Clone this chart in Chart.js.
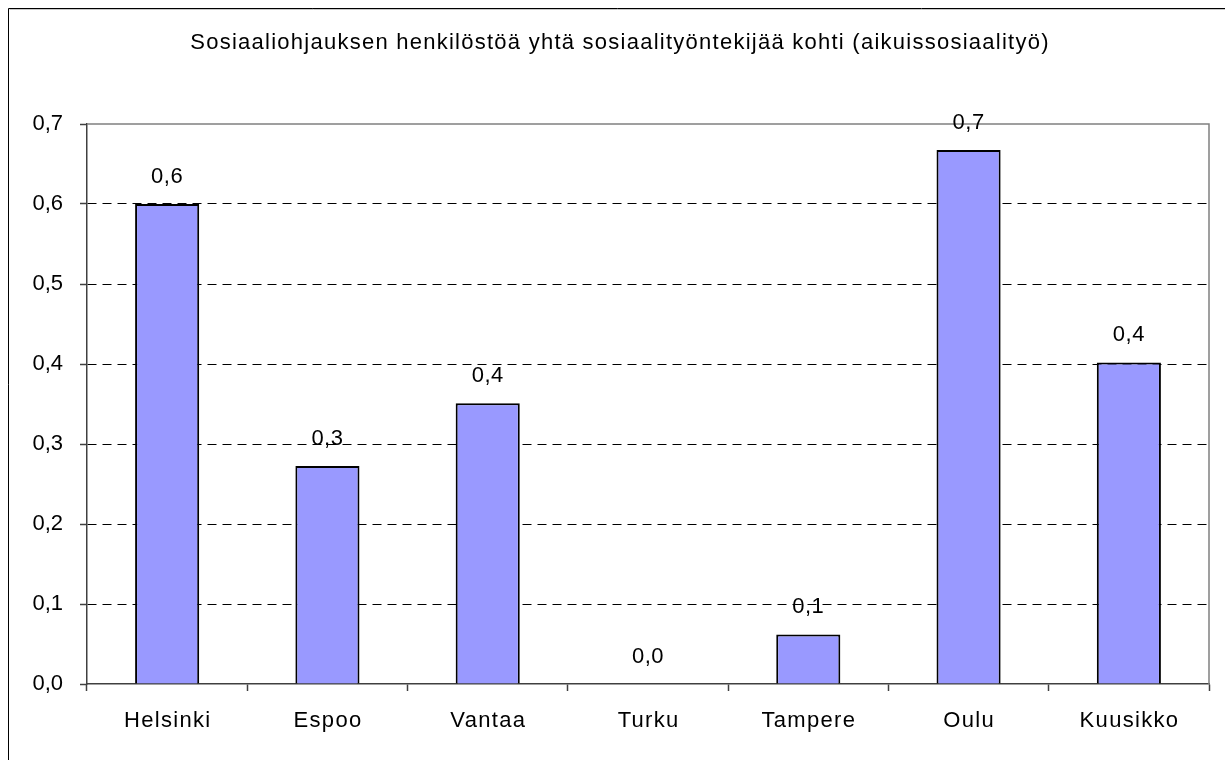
<!DOCTYPE html>
<html>
<head>
<meta charset="utf-8">
<script src="https://cdn.jsdelivr.net/npm/chart.js@4"></script>
<style>
  html, body { margin: 0; padding: 0; background: #fff; }
  #wrap { width: 1225px; height: 760px; position: relative; }
</style>
</head>
<body>
<div id="wrap"><canvas id="c" width="1225" height="760"></canvas></div>
<script>
const titleText = 'Sosiaaliohjauksen henkilöstöä yhtä sosiaalityöntekijää kohti (aikuissosiaalityö)';
const categories = ['Helsinki', 'Espoo', 'Vantaa', 'Turku', 'Tampere', 'Oulu', 'Kuusikko'];
const values = [0.600, 0.2725, 0.351, 0.0, 0.062, 0.6675, 0.402];
const yMin = 0;
const yMax = 0.7;
const yStep = 0.1;

const FONT = '"Liberation Sans", Arial, sans-serif';
const fmt = v => v.toFixed(1).replace('.', ',');

const framePlugin = {
  id: 'frame',
  beforeDraw(chart) {
    const ctx = chart.ctx;
    ctx.save();
    ctx.fillStyle = '#fff';
    ctx.fillRect(0, 0, chart.width, chart.height);
    ctx.strokeStyle = '#000';
    ctx.lineWidth = 1;
    ctx.beginPath();
    ctx.moveTo(8.5, chart.height + 5);
    ctx.lineTo(8.5, 8.5);
    ctx.lineTo(chart.width + 5, 8.5);
    ctx.stroke();
    ctx.strokeStyle = '#c8c8c8';
    ctx.beginPath();
    ctx.moveTo(9.5, 9.5);
    ctx.lineTo(chart.width + 5, 9.5);
    ctx.stroke();
    // title
    ctx.fillStyle = '#000';
    ctx.font = '22px ' + FONT;
    ctx.letterSpacing = '1.25px';
    ctx.textAlign = 'center';
    ctx.textBaseline = 'middle';
    ctx.fillText(titleText, 620, 43);
    ctx.restore();
  },
  beforeDatasetsDraw(chart) {
    const a = chart.chartArea;
    const ctx = chart.ctx;
    ctx.save();
    ctx.strokeStyle = '#808080';
    ctx.lineWidth = 1.5;
    ctx.beginPath();
    ctx.moveTo(a.left, a.top);
    ctx.lineTo(a.right, a.top);
    ctx.lineTo(a.right, a.bottom);
    ctx.stroke();
    ctx.restore();
  },
  afterDatasetsDraw(chart) {
    const ctx = chart.ctx;
    const meta = chart.getDatasetMeta(0);
    ctx.save();
    ctx.fillStyle = '#000';
    ctx.font = '22px ' + FONT;
    ctx.letterSpacing = '0.5px';
    ctx.textAlign = 'center';
    ctx.textBaseline = 'middle';
    meta.data.forEach((bar, i) => {
      ctx.fillText(fmt(values[i]), bar.x, bar.y - 27);
    });
    // category labels
    const xs = chart.scales.x;
    ctx.letterSpacing = '1.3px';
    categories.forEach((lab, i) => {
      ctx.fillText(lab, xs.getPixelForTick(i) + 0.6, 721);
    });
    ctx.restore();
  }
};

new Chart(document.getElementById('c'), {
  type: 'bar',
  data: {
    labels: categories,
    datasets: [{
      data: values,
      backgroundColor: '#9999FF',
      borderColor: '#000',
      borderWidth: 2,
      categoryPercentage: 1.0,
      barPercentage: 0.4
    }]
  },
  options: {
    responsive: false,
    animation: false,
    layout: { padding: { top: 124, right: 16, left: 0, bottom: 0 } },
    plugins: {
      legend: { display: false },
      title: { display: false },
      tooltip: { enabled: false }
    },
    scales: {
      x: {
        grid: {
          offset: true,
          drawOnChartArea: false,
          drawTicks: true,
          tickLength: 7,
          tickColor: '#404040',
          tickWidth: 1.5
        },
        border: { color: '#404040', width: 1.5 },
        ticks: {
          display: false,
          autoSkip: false
        },
        afterFit(scale) { scale.height = 76; }
      },
      y: {
        min: yMin,
        max: yMax,
        grid: {
          color: c => (c.tick && (Math.abs(c.tick.value - yMin) < 1e-9 || Math.abs(c.tick.value - yMax) < 1e-9)) ? 'rgba(0,0,0,0)' : '#000',
          lineWidth: 1,
          tickLength: 7,
          tickColor: '#404040',
          tickWidth: 1.5
        },
        border: { color: '#404040', width: 1.5, dash: [9, 6] },
        ticks: {
          stepSize: yStep,
          color: '#000',
          font: { family: FONT, size: 22 },
          padding: 17,
          callback: v => fmt(v)
        },
        afterFit(scale) { scale.width = 87; }
      }
    }
  },
  plugins: [framePlugin]
});
</script>
</body>
</html>
